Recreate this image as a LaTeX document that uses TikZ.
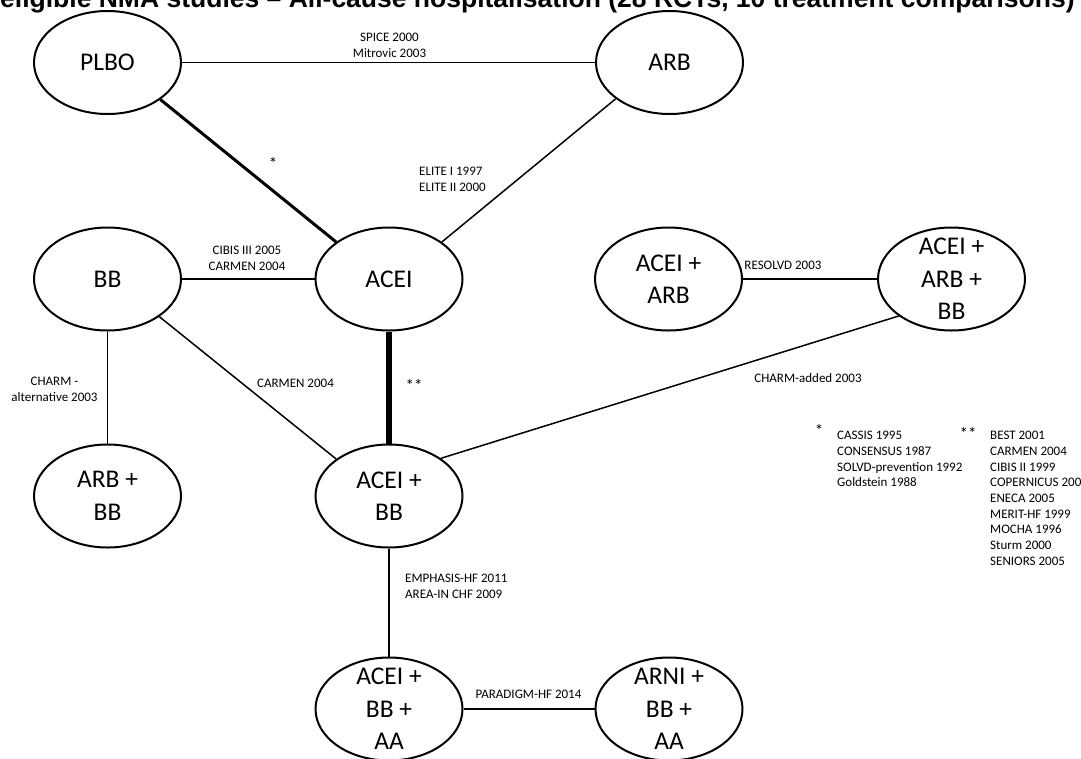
\documentclass[tikz,border=0pt]{standalone}
\usepackage{fontspec}
\setmainfont{Carlito}
\newfontfamily\titlefont{Liberation Sans}
\usetikzlibrary{shapes.geometric}
\begin{document}
\begin{tikzpicture}[x=1pt,y=-1pt,
  drug/.style={draw, ellipse, line width=2pt, minimum width=147pt, minimum height=103pt, inner sep=0pt},
  drugtext/.style={align=center, inner sep=0pt, font=\fontsize{25.5}{32.5}\selectfont},
  lbl/.style={align=center, inner sep=0pt, font=\fontsize{13}{15.7}\selectfont},
  lbll/.style={align=left, inner sep=0pt, font=\fontsize{13}{15.7}\selectfont},
  star/.style={inner sep=0pt, font=\fontsize{17}{17}\selectfont},
  edge/.style={line width=1.5pt},
  thickedge/.style={line width=3pt},
  heavyedge/.style={line width=6.5pt}]
\useasboundingbox (0,0) rectangle (1081,758);
\clip (0,0) rectangle (1081,758);
\fill[white] (0,0) rectangle (1081,758);

\node[anchor=base west, inner sep=0pt, font={\titlefont\bfseries\fontsize{26.5}{30}\selectfont}] (title) at (0,7.5)
  {eligible NMA studies – All-cause hospitalisation (28 RCTs, 10 treatment comparisons)};

% ellipses
\node[drug] (plbo) at (107.5,62.5) {};
\node[drug] (arb) at (669.5,62.5) {};
\node[drug] (bb) at (107.5,279) {};
\node[drug] (acei) at (389,279) {};
\node[drug] (aceiarb) at (668.5,279) {};
\node[drug] (aabb) at (951.5,279) {};
\node[drug] (arbbb) at (107.5,496) {};
\node[drug] (acb) at (389,496) {};
\node[drug] (acbaa) at (389,709) {};
\node[drug] (arni) at (669,709) {};

% texts in ellipses
\node[drugtext] (plbo-t) at (plbo) {PLBO};
\node[drugtext] (arb-t) at (arb) {ARB};
\node[drugtext] (bb-t) at (bb) {BB};
\node[drugtext] (acei-t) at (acei) {ACEI};
\node[drugtext] (aceiarb-t) at (aceiarb) {ACEI +\\ARB};
\node[drugtext] (aabb-t) at (aabb) {ACEI +\\ARB +\\BB};
\node[drugtext] (arbbb-t) at (arbbb) {ARB +\\BB};
\node[drugtext] (acb-t) at (acb) {ACEI +\\BB};
\node[drugtext] (acbaa-t) at (acbaa) {ACEI +\\BB +\\AA};
\node[drugtext] (arni-t) at (arni) {ARNI +\\BB +\\AA};

% connectors
\draw[edge] (plbo) -- (arb);
\draw[thickedge] (plbo.-35) -- (acei.145);
\draw[edge] (arb.214) -- (acei.35);
\draw[edge] (bb) -- (acei);
\draw[heavyedge] (acei) -- (acb);
\draw[edge] (aceiarb) -- (aabb);
\draw[edge] (bb) -- (arbbb);
\draw[edge] (bb.-36) -- (acb.145);
\draw[edge] (acb.36) -- (aabb.215);
\draw[edge] (acb) -- (acbaa);
\draw[edge] (acbaa) -- (arni);

% connector labels
\node[lbl] (l1) at (389.5,45.5) {SPICE 2000\\Mitrovic 2003};
\node[star] (s1) at (273,163) {*};
\node[lbll, anchor=west] (l2) at (419,179) {ELITE I 1997\\ELITE II 2000};
\node[lbl] (l3) at (247,258) {CIBIS III 2005\\CARMEN 2004};
\node[lbl] (l4) at (54.5,389) {CHARM -\\alternative 2003};
\node[lbl] (l5) at (295.5,383) {CARMEN 2004};
\node[star] (s2) at (414,385) {**};
\node[lbl] (l6) at (783,265) {RESOLVD 2003};
\node[lbl] (l7) at (808,378) {CHARM-added 2003};
\node[lbll, anchor=west] (l8) at (405,586) {EMPHASIS-HF 2011\\AREA-IN CHF 2009};
\node[lbl] (l9) at (528.5,694) {PARADIGM-HF 2014};

% legend
\node[star] (ls1) at (819,430) {*};
\node[lbll, anchor=north west] (lg1) at (837,431) {CASSIS 1995\\CONSENSUS 1987\\SOLVD-prevention 1992\\Goldstein 1988};
\node[star] (ls2) at (968,433) {**};
\node[lbll, anchor=north west] (lg2) at (990,431) {BEST 2001\\CARMEN 2004\\CIBIS II 1999\\COPERNICUS 2001\\ENECA 2005\\MERIT-HF 1999\\MOCHA 1996\\Sturm 2000\\SENIORS 2005};
\end{tikzpicture}
\end{document}
